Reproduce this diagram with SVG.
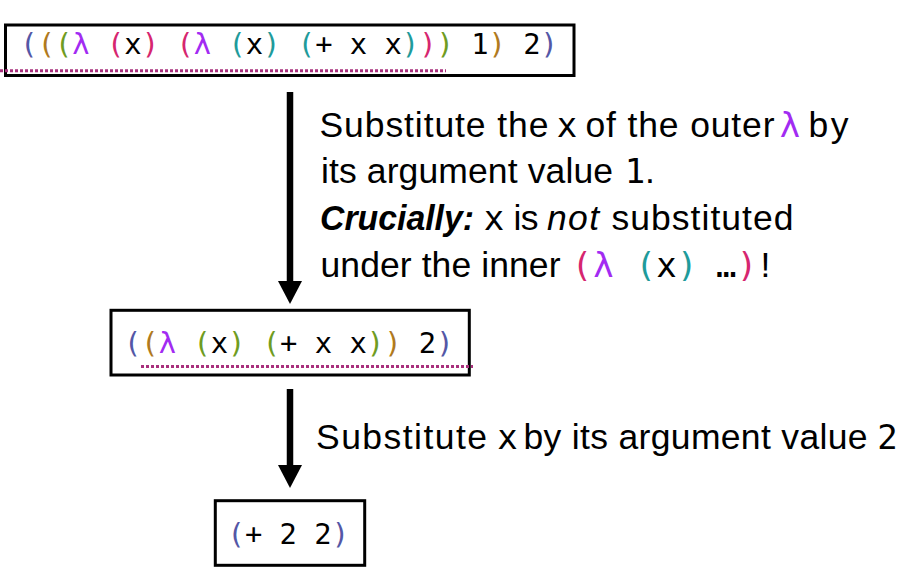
<svg xmlns="http://www.w3.org/2000/svg" width="908" height="570" viewBox="0 0 908 570">
<style>
.box{fill:#fff;stroke:#000;stroke-width:3}
.code{font-family:"DejaVu Sans Mono","Liberation Mono",monospace;font-size:28.8px;fill:#000}
.mono{font-family:"DejaVu Sans Mono","Liberation Mono",monospace;font-size:34px;fill:#000}
.body{font-family:"Liberation Sans",Arial,sans-serif;font-size:35.5px;fill:#000}
.bi{font-weight:bold;font-style:italic}
.it{font-style:italic}
.c1{fill:#5457a6}.c2{fill:#b07a1e}.c3{fill:#6f9c22}.c4{fill:#d6266f}.c5{fill:#1f9b9b}.lam{fill:#a22bf2}
.dots{fill:none;stroke:#a8307c;stroke-width:3;stroke-dasharray:3 2}
.arrow{fill:none;stroke:#000;stroke-width:6.5;marker-end:url(#head)}
</style>
<defs>
<marker id="head" markerUnits="userSpaceOnUse" markerWidth="23" markerHeight="24" viewBox="0 -12 23 24" refX="0" refY="0" orient="auto" overflow="visible">
<path d="M0,-12 L23,0 L0,12 z" fill="#000"/>
</marker>
</defs>

<g id="expr1">
<rect class="box" x="5.5" y="25" width="568.5" height="50.5"/>
<text class="code" x="20.3" y="53.5"><tspan class="c1">(</tspan><tspan class="c2">(</tspan><tspan class="c3">(</tspan><tspan class="lam">λ</tspan> <tspan class="c4">(</tspan>x<tspan class="c4">)</tspan> <tspan class="c4">(</tspan><tspan class="lam">λ</tspan> <tspan class="c5">(</tspan>x<tspan class="c5">)</tspan> <tspan class="c5">(</tspan>+ x x<tspan class="c5">)</tspan><tspan class="c4">)</tspan><tspan class="c3">)</tspan> 1<tspan class="c2">)</tspan> 2<tspan class="c1">)</tspan></text>
<line class="dots" x1="0" y1="70.7" x2="446" y2="70.7"/>
</g>

<g id="expr2">
<rect class="box" x="111" y="310.3" width="358.3" height="64.7"/>
<text class="code" x="124" y="353"><tspan class="c1">(</tspan><tspan class="c2">(</tspan><tspan class="lam">λ</tspan> <tspan class="c3">(</tspan>x<tspan class="c3">)</tspan> <tspan class="c3">(</tspan>+ x x<tspan class="c3">)</tspan><tspan class="c2">)</tspan> 2<tspan class="c1">)</tspan></text>
<line class="dots" x1="141" y1="366.5" x2="473" y2="366.5"/>
</g>

<g id="expr3">
<rect class="box" x="215.3" y="500.7" width="149.4" height="64.6"/>
<text class="code" x="227.6" y="544"><tspan class="c1">(</tspan>+ 2 2<tspan class="c1">)</tspan></text>
</g>

<g id="connectors">
<path class="arrow" d="M290,92 L290,281"/>
<path class="arrow" d="M290,389 L290,465"/>
</g>

<g id="label1">
<text class="body" x="319.5" y="137" textLength="229" lengthAdjust="spacing">Substitute the</text>
<text class="mono" x="556.8" y="137">x</text>
<text class="body" x="585.5" y="137" textLength="189" lengthAdjust="spacing">of the outer</text>
<text class="mono lam" x="779.8" y="137">λ</text>
<text class="body" x="808.5" y="137" textLength="40" lengthAdjust="spacing">by</text>

<text class="body" x="321" y="183" textLength="292" lengthAdjust="spacing">its argument value</text>
<text class="mono" x="624.8" y="183">1</text>
<text class="body" x="645" y="183">.</text>

<text class="body bi" x="320" y="230" textLength="154" lengthAdjust="spacingAndGlyphs">Crucially:</text>
<text class="mono" x="483.8" y="230">x</text>
<text class="body" x="513.5" y="230" textLength="25" lengthAdjust="spacing">is</text>
<text class="body it" x="547" y="230" textLength="52" lengthAdjust="spacing">not</text>
<text class="body" x="611.5" y="230" textLength="182" lengthAdjust="spacing">substituted</text>

<text class="body" x="320.5" y="277" textLength="240" lengthAdjust="spacing">under the inner</text>
<text class="mono" y="277"><tspan class="c4" x="571.8">(</tspan><tspan class="lam" x="593.3">λ</tspan><tspan class="c5" x="635.5">(</tspan><tspan x="656.3">x</tspan><tspan class="c5" x="677">)</tspan><tspan x="716">…</tspan><tspan class="c4" x="736.8">)</tspan></text>
<text class="body" x="760.5" y="277">!</text>
</g>

<g id="label2">
<text class="body" x="316" y="449" textLength="171" lengthAdjust="spacing">Substitute</text>
<text class="mono" x="497.3" y="449">x</text>
<text class="body" x="523.5" y="449" textLength="344" lengthAdjust="spacing">by its argument value</text>
<text class="mono" x="877.3" y="449">2</text>
</g>
</svg>
